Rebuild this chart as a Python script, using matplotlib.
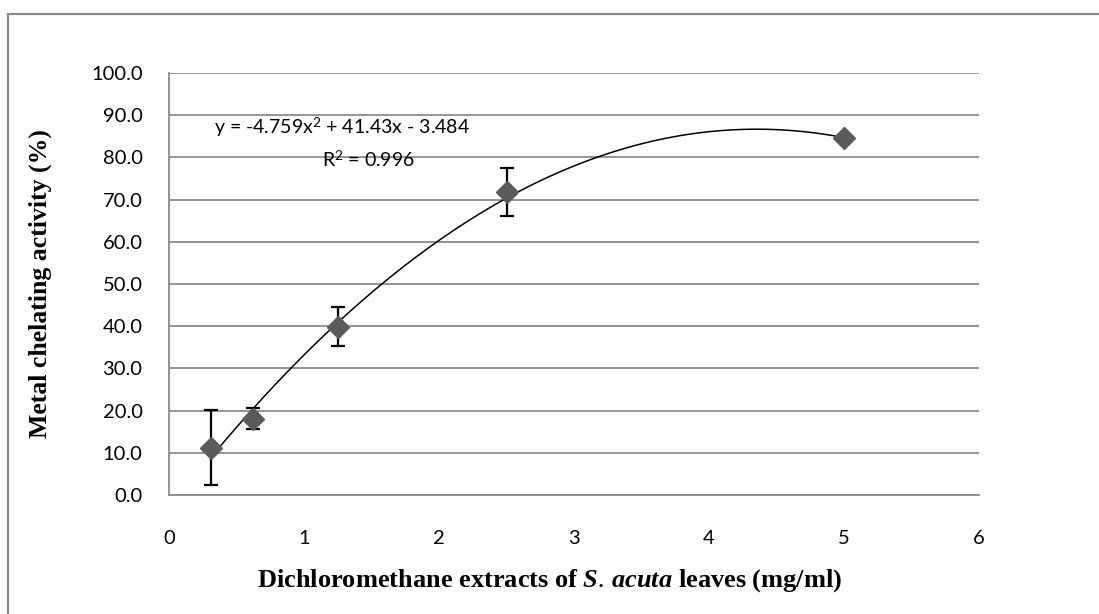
import numpy as np
import matplotlib
matplotlib.use('Agg')
import matplotlib.pyplot as plt
from matplotlib.patches import Rectangle

# Data
conc = [0.3125, 0.625, 1.25, 2.5, 5.0]
activity = [11.2, 18.1, 39.9, 71.8, 84.6]
err = [8.9, 2.4, 4.6, 5.6, 0.8]

# Quadratic trendline shown on the chart
coef = [-4.759, 41.43, -3.484]
eq_text = 'y = -4.759x$^2$ + 41.43x - 3.484'
r2_text = 'R$^2$ = 0.996'

plt.rcParams['mathtext.fontset'] = 'custom'
plt.rcParams['mathtext.rm'] = 'Lato'
plt.rcParams['mathtext.it'] = 'Liberation Serif:italic:bold'

fig = plt.figure(figsize=(10.99, 6.14), dpi=100)
ax = fig.add_axes([169 / 1099, 119 / 614, 810 / 1099, 422 / 614])

# Outer chart border
fig.patches.append(Rectangle((8 / 1099, -0.05), 1.1, 0.05 + 600 / 614,
                             transform=fig.transFigure, fill=False,
                             edgecolor='#8a8a8a', linewidth=1.6))

# Trendline
xs = np.linspace(conc[0], conc[-1], 200)
ax.plot(xs, np.polyval(coef, xs), color='black', linewidth=1.1, zorder=3)

# Points with error bars
ax.errorbar(conc, activity, yerr=err, fmt='none', ecolor='black',
            elinewidth=1.6, capsize=5, capthick=1.6, zorder=4)
ax.plot(conc, activity, linestyle='none', marker='D', markersize=11,
        color='#5b5b5b', zorder=5)

ax.set_xlim(0, 6)
ax.set_ylim(0, 100)
ax.set_yticks(np.arange(0, 101, 10))
ax.set_yticklabels(['%.1f' % v for v in np.arange(0, 101, 10)])
ax.set_xticks(range(7))

ax.yaxis.grid(True, color='#8a8a8a', linewidth=1.3)
ax.set_axisbelow(True)
for side in ['top', 'right']:
    ax.spines[side].set_visible(False)
for side in ['left', 'bottom']:
    ax.spines[side].set_color('#8a8a8a')
    ax.spines[side].set_linewidth(1.3)

ax.tick_params(axis='both', length=0, labelsize=14.5)
ax.tick_params(axis='y', pad=19)
ax.tick_params(axis='x', pad=25)
for lab in ax.get_xticklabels() + ax.get_yticklabels():
    lab.set_fontfamily('Lato')

ax.set_xlabel(r'Dichloromethane extracts of $\mathit{S.\,acuta}$ leaves (mg/ml)',
              fontfamily='Liberation Serif', fontweight='bold', fontsize=19)
ax.xaxis.set_label_coords((550 - 169) / 810, -0.17)
ax.set_ylabel('Metal chelating activity (%)', fontfamily='Liberation Serif',
              fontweight='bold', fontsize=18.5)
ax.yaxis.set_label_coords(-0.145, 0.5)

ax.text(1.28, 87.2, eq_text, fontsize=14, fontfamily='Lato',
        ha='center', va='center')
ax.text(1.48, 79.4, r2_text, fontsize=14, fontfamily='Lato',
        ha='center', va='center')

fig.savefig('out.png', dpi=100)
